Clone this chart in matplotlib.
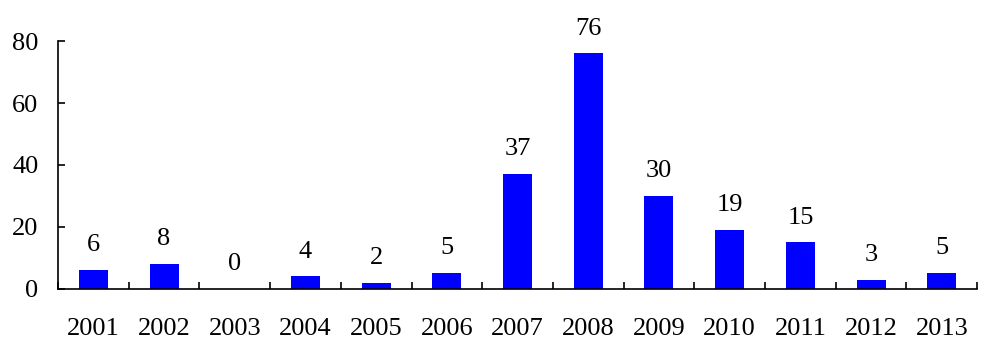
import matplotlib.pyplot as plt
import numpy as np

years = ['2001', '2002', '2003', '2004', '2005', '2006', '2007',
         '2008', '2009', '2010', '2011', '2012', '2013']
counts = [6, 8, 0, 4, 2, 5, 37, 76, 30, 19, 15, 3, 5]

plt.rcParams['font.family'] = ['Liberation Serif', 'DejaVu Serif']

fig = plt.figure(figsize=(9.84, 3.51), dpi=100)
ax = fig.add_axes([0.059, 0.177, 0.934, 0.706])

x = np.arange(len(years))
bars = ax.bar(x, counts, width=0.41, color='#0000ff')

for xi, v in zip(x, counts):
    ax.annotate(str(v), (xi, v), xytext=(0, 10), textcoords='offset points',
                ha='center', va='bottom', fontsize=19, annotation_clip=False)

ax.set_xlim(-0.5, len(years) - 0.5)
ax.set_ylim(0, 80)
ax.set_yticks([0, 20, 40, 60, 80])
ax.set_xticks(x)
ax.set_xticklabels(years)
ax.set_xticks(np.arange(-0.5, len(years)), minor=True)

ax.tick_params(axis='x', which='major', length=0, pad=21, labelsize=19)
ax.tick_params(axis='x', which='minor', direction='in', length=5, width=1.2)
ax.tick_params(axis='y', direction='in', length=5, width=1.2, pad=14, labelsize=19)

ax.spines['top'].set_visible(False)
ax.spines['right'].set_visible(False)
ax.spines['left'].set_linewidth(1.2)
ax.spines['bottom'].set_linewidth(1.2)

plt.savefig('out.png', dpi=100)
